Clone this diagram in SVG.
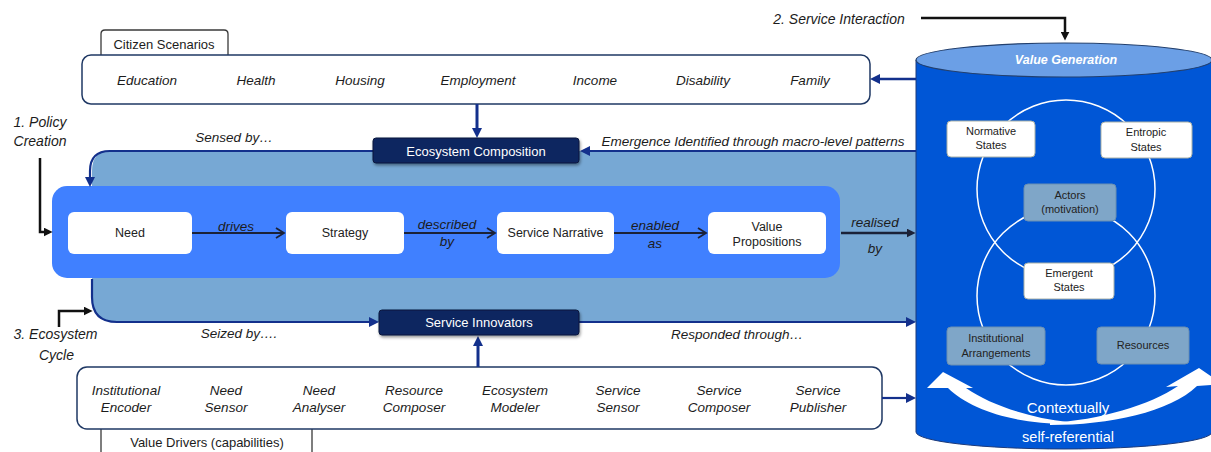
<svg xmlns="http://www.w3.org/2000/svg" width="1211" height="452" viewBox="0 0 1211 452">
<style>
text{font-family:"Liberation Sans",Arial,sans-serif;text-anchor:middle;fill:#1c1c1c}
.it{font-style:italic;font-size:13.5px}
.big{font-style:italic;font-size:14px}
.nd{font-size:12.5px;fill:#222}
.cy{font-size:11px;fill:#222}
.wt{fill:#fff}
.nav{fill:none;stroke:#13308c;stroke-width:2.2}
.blk{fill:none;stroke:#111;stroke-width:2.5}
.flow{fill:none;stroke:#1b2238;stroke-width:2}
.wbox{fill:#fff;stroke:#a9b1a8;stroke-width:1}
.gbox{fill:#7fa6c8;stroke:#6a8fb2;stroke-width:1}
.dbox{fill:#0c2660;stroke:#08163d;stroke-width:1}
</style>
<defs>
<marker id="hn" viewBox="0 0 10 10" refX="6" refY="5" markerWidth="10" markerHeight="10" markerUnits="userSpaceOnUse" orient="auto"><path d="M0 0 L10 5 L0 10 Z" fill="#13308c"/></marker>
<marker id="hb" viewBox="0 0 10 10" refX="6" refY="5" markerWidth="9" markerHeight="9" markerUnits="userSpaceOnUse" orient="auto"><path d="M0 0 L10 5 L0 10 Z" fill="#111"/></marker>
<marker id="hd" viewBox="0 0 10 10" refX="6" refY="5" markerWidth="9" markerHeight="9" markerUnits="userSpaceOnUse" orient="auto"><path d="M0 0 L10 5 L0 10 Z" fill="#1b2238"/></marker>
<marker id="ch" viewBox="0 0 12 12" refX="10" refY="6" markerWidth="12" markerHeight="12" markerUnits="userSpaceOnUse" orient="auto"><path d="M2 1 L10 6 L2 11" fill="none" stroke="#1b2238" stroke-width="1.8"/></marker>
<filter id="sh" x="-10%" y="-30%" width="120%" height="170%"><feDropShadow dx="1" dy="2" stdDeviation="1.5" flood-color="#000" flood-opacity="0.4"/></filter>
</defs>

<!-- ecosystem light region -->
<g id="ecosystem-region">
<path d="M110 151 L916 151 L916 322 L117 322 Q92 322 92 297 L92 171 Q92 151 110 151 Z" fill="#77a8d4"/>
</g>

<!-- cylinder -->
<g id="value-generation">
<path d="M916 60 L916 432 A148 17 0 0 0 1212 432 L1212 60 Z" fill="#0056d6" stroke="#1c3a7a" stroke-width="1"/>
<ellipse cx="1064" cy="60" rx="148" ry="17" fill="#6b9fe6" stroke="#23406e" stroke-width="1.2"/>
<text x="1066" y="64" class="wt" style="font-weight:bold;font-style:italic;font-size:12.5px">Value Generation</text>
<circle cx="1066" cy="189" r="89" fill="none" stroke="#fff" stroke-width="1.5"/>
<circle cx="1066" cy="296" r="89" fill="none" stroke="#fff" stroke-width="1.5"/>
<path d="M1068 422 C1030 418 990 405 966 388 L973 388 L943 372 L927 388 L948 388 C970 410 1015 424 1068 424 Z" fill="#fff"/>
<path d="M1050 423 C1100 420 1150 405 1178 386 L1166 387 L1199 368 L1222 384 L1197 386 C1170 412 1110 425 1050 425 Z" fill="#fff"/>
<text x="1068" y="413" class="wt" style="font-size:15px">Contextually</text>
<text x="1068" y="442" class="wt" style="font-size:14.5px">self-referential</text>
</g>
<g id="normative-states"><rect x="947" y="121" width="88" height="36" rx="4" class="wbox"/><text x="991" y="135" class="cy">Normative</text><text x="991" y="149" class="cy">States</text></g>
<g id="entropic-states"><rect x="1101" y="122" width="91" height="36" rx="4" class="wbox"/><text x="1146" y="136" class="cy">Entropic</text><text x="1146" y="151" class="cy">States</text></g>
<g id="actors"><rect x="1024" y="184" width="92" height="37" rx="4" class="gbox"/><text x="1070" y="199" class="cy">Actors</text><text x="1070" y="213" class="cy">(motivation)</text></g>
<g id="emergent-states"><rect x="1024" y="263" width="90" height="36" rx="4" class="wbox"/><text x="1069" y="277" class="cy">Emergent</text><text x="1069" y="291" class="cy">States</text></g>
<g id="institutional-arrangements"><rect x="947" y="327" width="98" height="38" rx="4" class="gbox"/><text x="996" y="342" class="cy">Institutional</text><text x="996" y="357" class="cy">Arrangements</text></g>
<g id="resources"><rect x="1097" y="327" width="92" height="37" rx="4" class="gbox"/><text x="1143" y="349" class="cy">Resources</text></g>

<!-- citizen scenarios -->
<g id="citizen-scenarios">
<path d="M101 56 L101 34 Q101 30 105 30 L224 30 Q228 30 228 34 L228 56" fill="#fff" stroke="#3a3a3a" stroke-width="1.3"/>
<text x="164" y="48.5" style="font-size:13px">Citizen Scenarios</text>
<rect x="82" y="55" width="788" height="49" rx="9" fill="#fff" stroke="#1f3864" stroke-width="1.5"/>
<text x="147" y="84.7" class="it">Education</text>
<text x="256" y="84.7" class="it">Health</text>
<text x="360" y="84.7" class="it">Housing</text>
<text x="478" y="84.7" class="it">Employment</text>
<text x="595" y="84.7" class="it">Income</text>
<text x="703" y="84.7" class="it">Disability</text>
<text x="810" y="84.7" class="it">Family</text>
</g>

<!-- inner flow box -->
<g id="policy-flow"><rect x="52" y="186" width="788" height="92" rx="15" fill="#4080ff"/></g>
<g id="need"><rect x="68" y="212" width="124" height="42" rx="6" fill="#fff"/><text x="130" y="237.4" class="nd">Need</text></g>
<g id="strategy"><rect x="286" y="212" width="118" height="42" rx="6" fill="#fff"/><text x="345" y="237.4" class="nd">Strategy</text></g>
<g id="service-narrative"><rect x="497" y="212" width="117" height="42" rx="6" fill="#fff"/><text x="555.5" y="237.4" class="nd">Service Narrative</text></g>
<g id="value-propositions"><rect x="708" y="212" width="118" height="42" rx="6" fill="#fff"/><text x="767" y="231" class="nd">Value</text><text x="767" y="245.5" class="nd">Propositions</text></g>

<!-- value drivers -->
<g id="value-drivers">
<path d="M101 429 L101 453 M312 429 L312 453" fill="none" stroke="#3a3a3a" stroke-width="1.3"/>
<text x="207" y="446.5" style="font-size:13px">Value Drivers (capabilities)</text>
<rect x="77" y="367" width="805" height="62" rx="10" fill="#fff" stroke="#1f3864" stroke-width="1.5"/>
<text x="126" y="394.7" class="it">Institutional</text><text x="126" y="411.7" class="it">Encoder</text>
<text x="226" y="394.7" class="it">Need</text><text x="226" y="411.7" class="it">Sensor</text>
<text x="319" y="394.7" class="it">Need</text><text x="319" y="411.7" class="it">Analyser</text>
<text x="414" y="394.7" class="it">Resource</text><text x="414" y="411.7" class="it">Composer</text>
<text x="515" y="394.7" class="it">Ecosystem</text><text x="515" y="411.7" class="it">Modeler</text>
<text x="618" y="394.7" class="it">Service</text><text x="618" y="411.7" class="it">Sensor</text>
<text x="719" y="394.7" class="it">Service</text><text x="719" y="411.7" class="it">Composer</text>
<text x="818" y="394.7" class="it">Service</text><text x="818" y="411.7" class="it">Publisher</text>
</g>

<!-- connectors -->
<g id="connectors">
<path d="M916 79 L874 79" class="nav" style="stroke-width:2.5" marker-end="url(#hn)"/>
<path d="M477 104 L477 134" class="nav" style="stroke-width:3" marker-end="url(#hn)"/>
<path d="M916 151 L584 151" class="nav" marker-end="url(#hn)"/>
<path d="M373 151 L110 151 Q90 151 90 171 L90 183" class="nav" marker-end="url(#hn)"/>
<path d="M92 279 L92 297 Q92 322 117 322 L375 322" class="nav" marker-end="url(#hn)"/>
<path d="M579 322 L912 322" class="nav" marker-end="url(#hn)"/>
<path d="M478 367 L478 340" class="nav" style="stroke-width:3" marker-end="url(#hn)"/>
<path d="M882 398 L912 398" class="nav" marker-end="url(#hn)"/>
<path d="M192 233 L284 233" class="flow" marker-end="url(#ch)"/>
<path d="M404 233 L495 233" class="flow" marker-end="url(#ch)"/>
<path d="M614 233 L706 233" class="flow" marker-end="url(#ch)"/>
<path d="M841 233 L912 233" class="flow" style="stroke-width:2.5" marker-end="url(#hd)"/>
<path d="M921 18 L1065 18 L1065 37" class="blk" marker-end="url(#hb)"/>
<path d="M40 158 L40 232 L49 232" class="blk" marker-end="url(#hb)"/>
<path d="M59 327 L59 311 L89 311" class="blk" marker-end="url(#hb)"/>
</g>

<!-- dark boxes -->
<g id="ecosystem-composition"><rect x="373" y="138" width="206" height="25" rx="3" class="dbox" filter="url(#sh)"/><text x="476" y="155.5" class="wt" style="font-size:13px">Ecosystem Composition</text></g>
<g id="service-innovators"><rect x="379" y="310" width="200" height="25" rx="3" class="dbox" filter="url(#sh)"/><text x="479" y="327" class="wt" style="font-size:13px">Service Innovators</text></g>

<!-- labels -->
<g id="labels">
<text x="839" y="24" class="big">2. Service Interaction</text>
<text x="40" y="127" class="big">1. Policy</text>
<text x="40" y="146" class="big">Creation</text>
<text x="55.5" y="339" class="big">3. Ecosystem</text>
<text x="56.5" y="360" class="big">Cycle</text>
<text x="234" y="142" class="it">Sensed by…</text>
<text x="753" y="145.5" class="it">Emergence Identified through macro-level patterns</text>
<text x="239" y="338" class="it">Seized by….</text>
<text x="737" y="338.5" class="it">Responded through…</text>
<text x="236" y="230.5" class="it">drives</text>
<text x="447" y="228.5" class="it">described</text>
<text x="447" y="245.5" class="it">by</text>
<text x="655" y="229.5" class="it">enabled</text>
<text x="655" y="247.5" class="it">as</text>
<text x="875" y="226.5" class="it">realised</text>
<text x="875" y="252.5" class="it">by</text>
</g>
</svg>
